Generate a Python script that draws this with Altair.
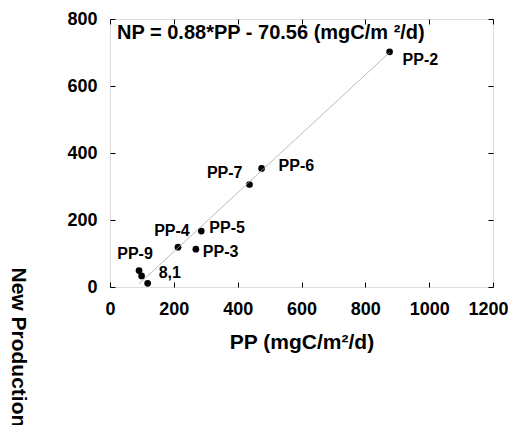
import altair as alt
import pandas as pd

# --- data ---
stations = ["PP-1", "PP-2", "PP-3", "PP-4", "PP-5", "PP-6", "PP-7", "PP-8", "PP-9"]
pp_values = [118, 876, 269, 213, 286, 475, 437, 99, 91]
np_values = [11, 702, 113, 119, 167, 354, 306, 33, 49]
x_ticks = [0, 200, 400, 600, 800, 1000, 1200]
y_ticks = [0, 200, 400, 600, 800]
slope = 0.88
intercept = -70.56
equation = "NP = 0.88*PP - 70.56 (mgC/m \u00b2/d)"

df = pd.DataFrame({"station": stations, "PP": pp_values, "NP": np_values})
x0, x1 = min(pp_values), max(pp_values)
line_df = pd.DataFrame({"PP": [x0, x1], "NP": [slope * x0 + intercept, slope * x1 + intercept]})

FONT = "Liberation Sans"
xs = alt.Scale(domain=[0, 1200], nice=False, zero=False)
ys = alt.Scale(domain=[0, 800], nice=False, zero=False)

x_bottom = alt.X("PP:Q", scale=xs, title="PP (mgC/m\u00b2/d)",
                 axis=alt.Axis(orient="bottom", values=x_ticks, format="d", offset=-5, domain=False,
                               tickSize=5, tickColor="black", labelPadding=13,
                               labelFont=FONT, labelFontSize=18, labelFontWeight="bold",
                               labelColor="black", grid=False, titleFont=FONT,
                               titleFontSize=21, titleFontWeight="bold", titleColor="black",
                               titlePadding=13, labelFlush=False,
                               labelOffset={"condition": {"test": "datum.value === 1200", "value": -5},
                                            "value": 0}))
y_left = alt.Y("NP:Q", scale=ys, title="New Production (mgC/m\u00b2/d)",
               axis=alt.Axis(orient="left", values=y_ticks, format="d", offset=-5, domain=False,
                             tickSize=5, tickColor="black", labelPadding=13,
                             labelFont=FONT, labelFontSize=18, labelFontWeight="bold",
                             labelColor="black", grid=False, titleFont=FONT,
                             titleFontSize=21, titleFontWeight="bold", titleColor="black",
                             titleAngle=90, titleAlign="left", titleBaseline="middle",
                             titleX=-98, titleY=248, labelFlush=False))

points = alt.Chart(df).mark_circle(size=45, color="black", opacity=1).encode(x=x_bottom, y=y_left)

x_top = alt.X("PP:Q", scale=xs, title=None,
              axis=alt.Axis(orient="top", values=x_ticks, offset=-5, domain=False,
                            tickSize=5, tickColor="black", labels=False, grid=False))
y_right = alt.Y("NP:Q", scale=ys, title=None,
                axis=alt.Axis(orient="right", values=y_ticks, offset=-5, domain=False,
                              tickSize=5, tickColor="black", labels=False, grid=False))

reg = alt.Chart(line_df).mark_line(color="#aaaaaa", strokeWidth=0.8).encode(x=x_top, y=y_right)

label_text = {"PP-1": "8,1", "PP-2": "PP-2", "PP-3": "PP-3", "PP-4": "PP-4", "PP-5": "PP-5",
              "PP-6": "PP-6", "PP-7": "PP-7", "PP-9": "PP-9"}
label_pos = {
    "PP-1": ("left", 11, -10),
    "PP-2": ("left", 13, 8),
    "PP-3": ("left", 7, 3),
    "PP-4": ("center", -6, -16),
    "PP-5": ("left", 8, -3),
    "PP-6": ("left", 17, -2),
    "PP-7": ("right", -7, -11),
    "PP-9": ("center", -4, -17),
}
xn = alt.X("PP:Q", scale=xs, axis=None)
yn = alt.Y("NP:Q", scale=ys, axis=None)
label_layers = []
for st, txt in label_text.items():
    al, dx, dy = label_pos[st]
    label_layers.append(
        alt.Chart(df[df.station == st].assign(lbl=txt)).mark_text(
            align=al, baseline="middle", dx=dx, dy=dy, font=FONT, fontSize=16,
            fontWeight="bold", color="black").encode(x=xn, y=yn, text="lbl:N"))

eq = alt.Chart(pd.DataFrame({"PP": [22], "NP": [758], "t": [equation]})).mark_text(
    align="left", baseline="middle", font=FONT, fontSize=20, fontWeight="bold",
    color="black").encode(x=xn, y=yn, text="t:N")

chart = alt.layer(points, reg, *label_layers, eq).resolve_axis(
    x="independent", y="independent").properties(
    width=383, height=268,
    autosize=alt.AutoSizeParams(type="none"),
    padding={"left": 102, "top": 11, "right": 15, "bottom": 170},
).configure_view(stroke="black", strokeWidth=1).configure(background="white")

chart.save("out.html", embed_options={"renderer": "svg", "actions": False})
